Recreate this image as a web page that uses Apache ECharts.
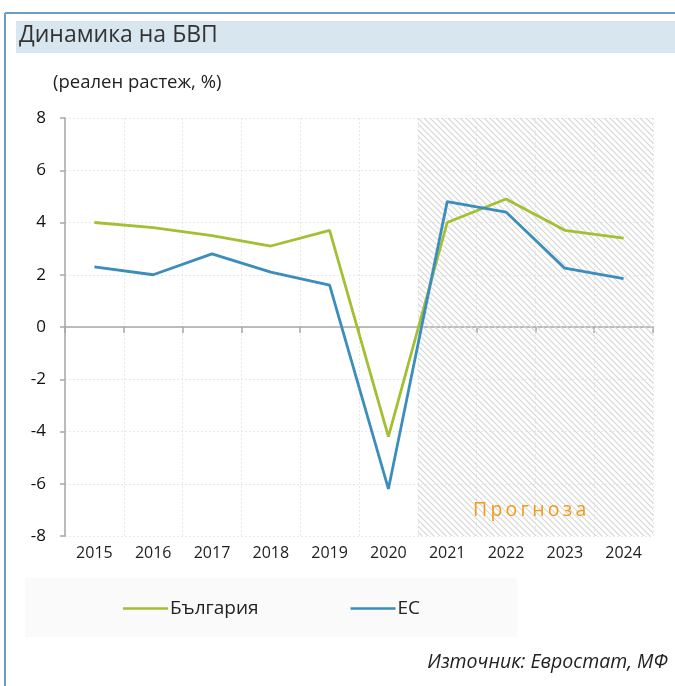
<!DOCTYPE html>
<html><head><meta charset="utf-8">
<script src="https://cdn.jsdelivr.net/npm/echarts@6/dist/echarts.min.js"></script>
<style>html,body{margin:0;padding:0;background:#fff}#c{width:675px;height:686px}</style>
</head><body><div id="c"></div>
<script>
const years = ['2015','2016','2017','2018','2019','2020','2021','2022','2023','2024'];
const bulgaria = [4.0, 3.8, 3.5, 3.1, 3.7, -4.2, 4.0, 4.9, 3.7, 3.4];
const eu = [2.3, 2.0, 2.8, 2.1, 1.6, -6.2, 4.8, 4.4, 2.25, 1.85];
const yTicks = { min: -8, max: 8, interval: 2 };
const forecastStart = 6; // index of first forecast year (2021)

const pc = document.createElement('canvas');
pc.width = 6; pc.height = 6;
const g = pc.getContext('2d');
g.strokeStyle = '#d6d6d6'; g.lineWidth = 1.2;
g.beginPath();
g.moveTo(-1,-1); g.lineTo(7,7);
g.moveTo(-1,5); g.lineTo(1,7);
g.moveTo(5,-1); g.lineTo(7,1);
g.stroke();

const font = '"Open Sans", "Noto Sans", sans-serif';
const chart = echarts.init(document.getElementById('c'), null, {renderer:'canvas'});
chart.setOption({
  animation: false,
  textStyle: { fontFamily: font },
  grid: { left: 65, right: 22, top: 118, bottom: 150 },
  xAxis: [
    { type: 'category', data: years, boundaryGap: true,
      axisLine: { onZero: true, lineStyle: { color: '#a6a6a6', width: 1.5 } },
      axisTick: { show: true, length: 6, lineStyle: { color: '#a6a6a6', width: 1.5 } },
      axisLabel: { show: false },
      splitLine: { show: true, lineStyle: { color: '#e8e8e8', type: [2,2] } } },
    { type: 'category', data: years, position: 'bottom', boundaryGap: true,
      axisLine: { show: false, onZero: false }, axisTick: { show: false },
      axisLabel: { color: '#222', fontSize: 16, margin: 9, fontFamily: font } },
    { type: 'value', min: 0, max: years.length, show: false }
  ],
  yAxis: { type: 'value', min: yTicks.min, max: yTicks.max, interval: yTicks.interval,
    axisLine: { show: true, lineStyle: { color: '#a6a6a6', width: 1.5 } },
    axisTick: { show: true, length: 5, lineStyle: { color: '#a6a6a6', width: 1.5 } },
    axisLabel: { color: '#111', fontSize: 17, margin: 19, fontFamily: font },
    splitLine: { show: true, lineStyle: { color: '#e8e8e8', type: [2,2] } } },
  series: [
    { type: 'line', xAxisIndex: 2, data: [], silent: true,
      markArea: { silent: true, itemStyle: { color: { image: pc, repeat: 'repeat' } },
        data: [[{ xAxis: forecastStart }, { xAxis: years.length }]] } },
    { name: 'България', type: 'line', data: bulgaria, showSymbol: false, z: 3,
      lineStyle: { color: '#a3bf32', width: 2.8 }, itemStyle: { color: '#a3bf32' } },
    { name: 'ЕС', type: 'line', data: eu, showSymbol: false, z: 4,
      lineStyle: { color: '#3b8dbd', width: 2.8 }, itemStyle: { color: '#3b8dbd' } }
  ],
  graphic: [
    { type: 'line', shape: { x1: 5, y1: 13, x2: 675, y2: 13 }, style: { stroke: '#6a9ec6', lineWidth: 2 }, z: -1 },
    { type: 'line', shape: { x1: 5, y1: 13, x2: 5, y2: 686 }, style: { stroke: '#6a9ec6', lineWidth: 2 }, z: -1 },
    { type: 'rect', shape: { x: 16, y: 21, width: 659, height: 32 }, style: { fill: '#d7e6ef' }, z: -1 },
    { type: 'text', left: 19, top: 24, z: 100, style: { text: 'Динамика на БВП', font: '23px ' + font, fill: '#333' } },
    { type: 'text', left: 53, top: 73, z: 100, style: { text: '(реален растеж, %)', font: '18.5px ' + font, fill: '#222' } },
    { type: 'text', left: 473, top: 500, z: 100, style: { text: 'П\u2009р\u2009о\u2009г\u2009н\u2009о\u2009з\u2009а', font: '19.5px ' + font, fill: '#f39a17' } },
    { type: 'rect', shape: { x: 25, y: 578, width: 492, height: 59 }, style: { fill: '#fafafa' }, z: -1 },
    { type: 'text', right: 7, top: 652, z: 100, style: { text: 'Източник: Евростат, МФ', font: 'italic 19.5px ' + font, fill: '#222' } }
  ],
  legend: { data: ['България', 'ЕС'], left: 118, top: 594, itemWidth: 45, itemHeight: 14, itemGap: 92,
    icon: 'path://M0,6 L45,6 L45,8.5 L0,8.5 Z', itemStyle: { borderWidth: 0 },
    textStyle: { fontSize: 19, color: '#222', fontFamily: font, padding: [0,0,0,-3] } }
});
</script></body></html>
